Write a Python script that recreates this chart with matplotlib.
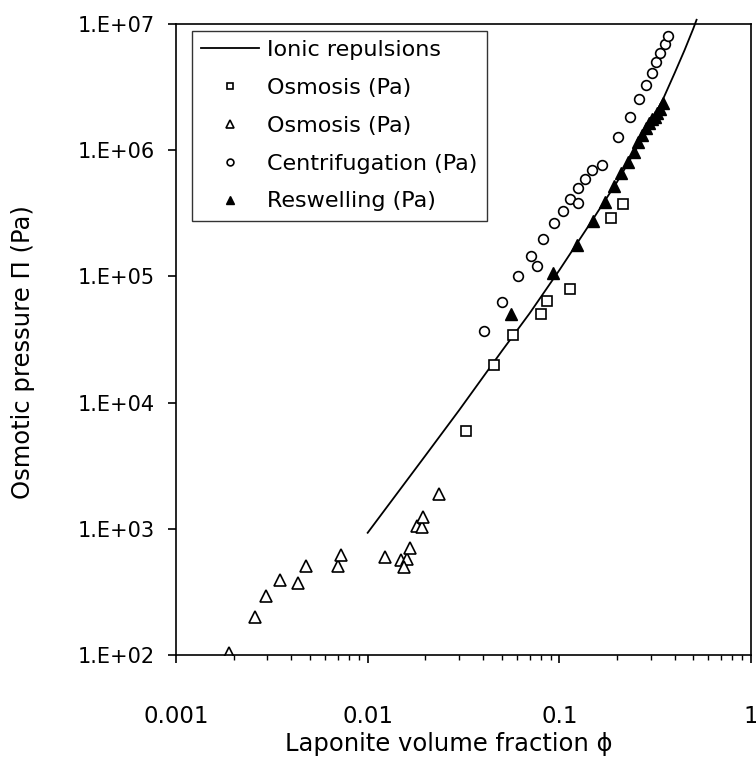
import numpy as np
import matplotlib.pyplot as plt
from matplotlib.ticker import FixedLocator, FuncFormatter, LogLocator, NullFormatter

# Ionic repulsions model curve
model_phi = [0.01, 0.02, 0.03, 0.05, 0.07, 0.1, 0.15, 0.2, 0.25, 0.3, 0.35, 0.4, 0.45, 0.5, 0.52]
model_pi = [930, 3800, 8700, 25500, 51000, 112000, 285000, 560000, 1.0e6, 1.65e6, 2.6e6,
            4.1e6, 6.2e6, 9.2e6, 1.08e7]

# Osmosis (squares)
osm_sq_phi = [0.0327, 0.0454, 0.0572, 0.0803, 0.0863, 0.113, 0.185, 0.216]
osm_sq_pi = [5980, 19950, 34100, 50100, 63800, 79400, 288000, 372000]

# Osmosis (triangles)
osm_tri_phi = [0.0019, 0.00257, 0.00296, 0.00349, 0.00434, 0.00476, 0.00702, 0.00724,
               0.01225, 0.0150, 0.0160, 0.01555, 0.0167, 0.0181, 0.0192, 0.0194, 0.0237]
osm_tri_pi = [104, 201, 294, 393, 370, 507, 507, 620,
              601, 566, 575, 501, 708, 1052, 1040, 1248, 1890]

# Centrifugation (circles)
cent_phi = [0.0403, 0.050, 0.061, 0.0762, 0.0715, 0.0824, 0.0933, 0.1044, 0.114, 0.125,
            0.125, 0.136, 0.148, 0.167, 0.203, 0.233, 0.260, 0.283, 0.303, 0.321,
            0.336, 0.355, 0.368]
cent_pi = [36900, 63000, 100700, 121600, 146000, 199000, 263700, 332000, 410000, 384000,
           499000, 591000, 697000, 764000, 1.265e6, 1.84e6, 2.53e6, 3.29e6, 4.11e6, 5.02e6,
           5.93e6, 6.95e6, 8.07e6]

# Reswelling (filled triangles)
resw_phi = [0.0561, 0.0927, 0.123, 0.149, 0.173, 0.194, 0.2095, 0.227, 0.244, 0.256,
            0.269, 0.282, 0.294, 0.306, 0.315, 0.325, 0.335, 0.346]
resw_pi = [50700, 106000, 176000, 275000, 391000, 524000, 656000, 811000, 972000, 1.156e6,
           1.32e6, 1.49e6, 1.63e6, 1.76e6, 1.84e6, 1.96e6, 2.11e6, 2.35e6]

plt.rcParams['font.family'] = ['DejaVu Sans']

fig = plt.figure(figsize=(7.56, 7.61), dpi=100)
ax = fig.add_axes([176 / 756, 1 - 655 / 761, (751 - 176) / 756, (655 - 24) / 761])

ax.plot(model_phi, model_pi, color="black", lw=1.3, clip_on=False, label="Ionic repulsions")
ax.plot(osm_sq_phi, osm_sq_pi, ls="none", marker="s", ms=6.8, mfc="white", mec="black",
        mew=1.2, label="Osmosis (Pa)")
ax.plot(osm_tri_phi, osm_tri_pi, ls="none", marker="^", ms=8, mfc="white", mec="black",
        mew=1.2, label="Osmosis (Pa)")
ax.plot(cent_phi, cent_pi, ls="none", marker="o", ms=7, mfc="white", mec="black",
        mew=1.2, label="Centrifugation (Pa)")
ax.plot(resw_phi, resw_pi, ls="none", marker="^", ms=8, mfc="black", mec="black",
        mew=1.0, label="Reswelling (Pa)")

ax.set_xscale("log")
ax.set_yscale("log")
ax.set_xlim(0.001, 1)
ax.set_ylim(100, 1e7)

ax.xaxis.set_major_locator(FixedLocator([0.001, 0.01, 0.1, 1]))
ax.xaxis.set_major_formatter(FuncFormatter(lambda v, p: "%g" % v))
ax.xaxis.set_minor_locator(LogLocator(base=10, subs=np.arange(2, 10)))
ax.xaxis.set_minor_formatter(NullFormatter())
ax.yaxis.set_major_locator(FixedLocator([1e2, 1e3, 1e4, 1e5, 1e6, 1e7]))
ax.yaxis.set_major_formatter(FuncFormatter(lambda v, p: "1.E+%02d" % round(np.log10(v))))
ax.yaxis.set_minor_locator(FixedLocator([]))

ax.tick_params(axis="y", which="major", direction="out", length=5.5, width=1.2,
               labelsize=15, pad=10)
ax.tick_params(axis="x", which="major", direction="out", length=6, width=1.2,
               labelsize=16.5, pad=30)
ax.tick_params(axis="x", which="minor", direction="out", length=3.6, width=1.0)
for s in ax.spines.values():
    s.set_linewidth(1.2)

ax.set_xlabel("Laponite volume fraction ϕ", fontsize=17.5)
ax.xaxis.set_label_coords(0.475, -0.122)
ax.set_ylabel("Osmotic pressure Π (Pa)", fontsize=17.5)
ax.yaxis.set_label_coords(-0.245, 0.48)

leg = ax.legend(loc="upper left", bbox_to_anchor=(0.028, 0.989), borderaxespad=0,
                fontsize=16, frameon=True, fancybox=False, edgecolor="black",
                markerscale=0.7, handlelength=2.6, handletextpad=0.35, borderpad=0.42,
                labelspacing=0.8)
leg.get_frame().set_linewidth(1.0)

fig.savefig("out.png", dpi=100)
